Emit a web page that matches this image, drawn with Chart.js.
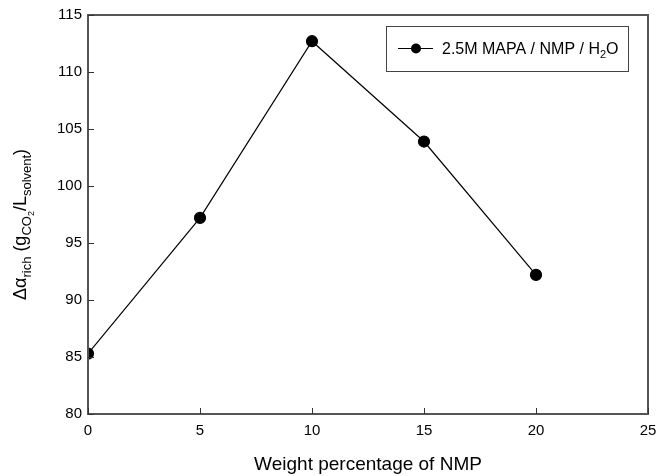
<!DOCTYPE html>
<html>
<head>
<meta charset="utf-8">
<script src="https://cdn.jsdelivr.net/npm/chart.js@4"></script>
<style>
  html, body { margin: 0; padding: 0; background: #fff; }
  #wrap { width: 670px; height: 476px; }
</style>
</head>
<body>
<div id="wrap"><canvas id="chart" width="670" height="476"></canvas></div>
<script>
// data
const nmpWeight = [0, 5, 10, 15, 20];
const deltaAlpha = [85.3, 97.2, 112.7, 103.9, 92.2];
const xTicks = [0, 5, 10, 15, 20, 25];
const yTicks = [80, 85, 90, 95, 100, 105, 110, 115];
const seriesLabel = '2.5M MAPA / NMP / H';

const FONT = '"Liberation Sans", Arial, sans-serif';

// draws a run of [text, size, dy] pieces starting at x, baseline y
function drawRuns(ctx, runs, x, y) {
    runs.forEach(r => {
        ctx.font = r[1] + 'px ' + FONT;
        ctx.fillText(r[0], x, y + r[2]);
        x += ctx.measureText(r[0]).width;
    });
    return x;
}

// frame, inward tick marks, y title and legend
const decor = {
    id: 'decor',
    afterDraw(chart) {
        const ctx = chart.ctx;
        const a = chart.chartArea;
        const xs = chart.scales.x, ys = chart.scales.y;
        ctx.save();
        ctx.strokeStyle = '#555';
        ctx.lineWidth = 2;
        ctx.strokeRect(a.left, a.top, a.right - a.left, a.bottom - a.top);

        ctx.lineWidth = 1;
        ctx.strokeStyle = '#333';
        ctx.beginPath();
        xTicks.forEach(v => {
            const px = Math.round(xs.getPixelForValue(v)) + 0.5;
            ctx.moveTo(px, a.bottom);
            ctx.lineTo(px, a.bottom - 6);
        });
        yTicks.forEach(v => {
            const py = Math.round(ys.getPixelForValue(v)) + 0.5;
            ctx.moveTo(a.left, py);
            ctx.lineTo(a.left + 6, py);
        });
        ctx.stroke();

        // y axis title with subscripts
        ctx.fillStyle = '#000';
        ctx.textAlign = 'left';
        ctx.textBaseline = 'alphabetic';
        ctx.translate(26, 300);
        ctx.rotate(-Math.PI / 2);
        drawRuns(ctx, [
            ['\u0394\u03b1', 18, 0], ['rich', 13, 5], [' (g', 18, 0],
            ['CO', 13, 5], ['2', 9, 8], ['/L', 18, 0],
            ['solvent', 13, 5], [')', 18, 0]
        ], 0, 0);
        ctx.setTransform(1, 0, 0, 1, 0, 0);

        // legend box
        ctx.strokeStyle = '#444';
        ctx.lineWidth = 1;
        ctx.strokeRect(386.5, 26.5, 242, 45);
        ctx.strokeStyle = '#000';
        ctx.beginPath();
        ctx.moveTo(398, 48.5);
        ctx.lineTo(433, 48.5);
        ctx.stroke();
        ctx.beginPath();
        ctx.arc(416, 48.5, 5, 0, Math.PI * 2);
        ctx.fill();
        const end = drawRuns(ctx, [[seriesLabel, 16, 0], ['2', 11, 4]], 442, 54);
        drawRuns(ctx, [['O', 16, 0]], end, 54);
        ctx.restore();
    }
};

const ctx = document.getElementById('chart').getContext('2d');
new Chart(ctx, {
    type: 'line',
    data: {
        datasets: [{
            label: seriesLabel,
            data: nmpWeight.map((x, i) => ({ x: x, y: deltaAlpha[i] })),
            borderColor: '#000',
            backgroundColor: '#000',
            borderWidth: 1.2,
            pointRadius: 5.5,
            pointHoverRadius: 5.5,
            pointStyle: 'circle',
            tension: 0
        }]
    },
    options: {
        responsive: false,
        animation: false,
        layout: { padding: { top: 12, right: 22, left: 0, bottom: 0 } },
        plugins: {
            legend: { display: false },
            tooltip: { enabled: false }
        },
        scales: {
            x: {
                type: 'linear',
                min: 0,
                max: 25,
                afterFit(scale) { scale.height = 62; },
                afterBuildTicks(scale) { scale.ticks = xTicks.map(v => ({ value: v })); },
                grid: { display: false, drawTicks: false },
                border: { display: false },
                ticks: { padding: 8, color: '#000', font: { family: FONT, size: 15 } },
                title: {
                    display: true,
                    text: 'Weight percentage of NMP',
                    color: '#000',
                    font: { family: FONT, size: 19 },
                    padding: { top: 13, bottom: 0 }
                }
            },
            y: {
                min: 80,
                max: 115,
                afterFit(scale) { scale.width = 88; },
                afterBuildTicks(scale) { scale.ticks = yTicks.map(v => ({ value: v })); },
                grid: { display: false, drawTicks: false },
                border: { display: false },
                ticks: { padding: 6, color: '#000', font: { family: FONT, size: 15 } }
            }
        }
    },
    plugins: [decor]
});
</script>
</body>
</html>
